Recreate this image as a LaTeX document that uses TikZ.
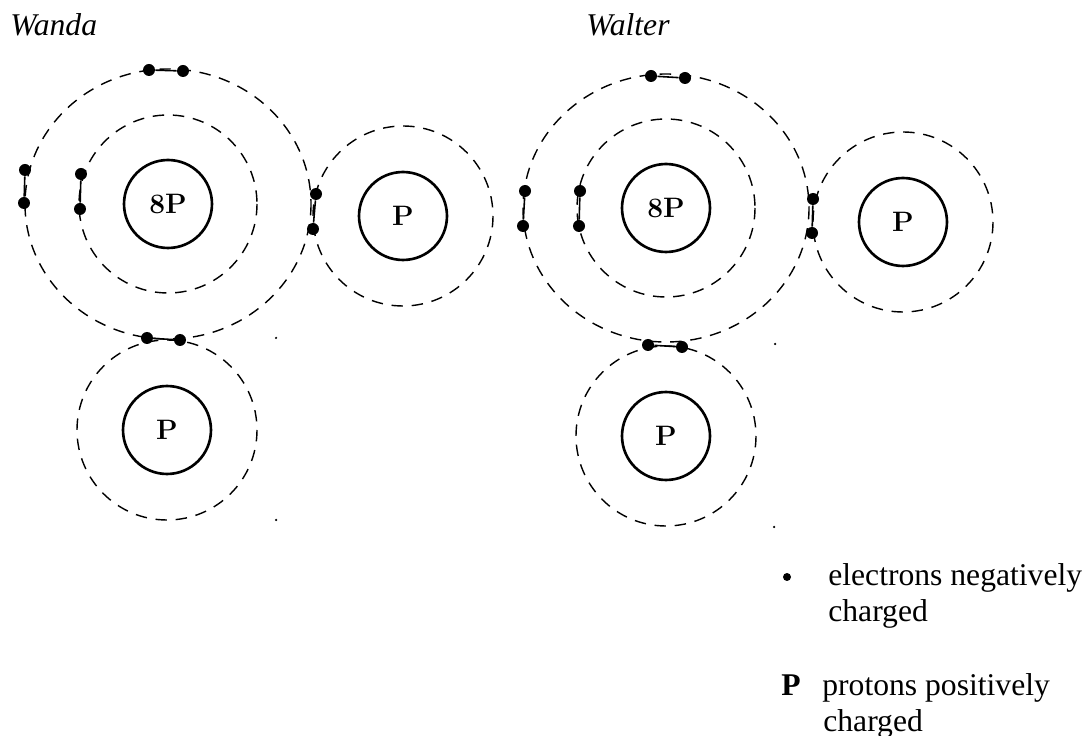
\documentclass[tikz,border=0pt]{standalone}
\usepackage{fontspec}
\newfontfamily\timesfont{Liberation Serif}
\begin{document}
\begin{tikzpicture}[x=0.02cm,y=-0.02cm,
	nucleus/.style={draw,circle,line width=1.5pt,minimum size=1.76cm,inner sep=0pt,font=\bfseries\fontsize{16}{19}\selectfont},
	shell/.style={dash pattern=on 6.5pt off 5pt,line width=0.8pt},
	electron/.style={fill,circle,inner sep=0pt,minimum size=0.24cm},
	pair/.style={line width=0.9pt},
	speck/.style={fill,circle,inner sep=0pt,minimum size=0.05cm},
	who/.style={font=\timesfont\itshape\fontsize{18}{21}\selectfont,anchor=base west,inner sep=0pt},
	key/.style={font=\timesfont\fontsize{18}{21}\selectfont,anchor=base west,inner sep=0pt}]
			\useasboundingbox (0,0) rectangle (1086,736);
			
			\node[who] (wanda) at (10,36) {Wanda};
			\node[who] (walter) at (586,36) {Walter};
			
			\node[nucleus] (Wan8) at (168,204) {8P};
			\node[nucleus] (WanP1) at (403,216) {P};
			\node[nucleus] (WanP2) at (167,430) {P};
			
			\draw[shell] (Wan8) circle[radius=89];
			\draw[shell] (Wan8) ellipse[x radius=143,y radius=135];
			\draw[shell] (WanP1) circle[radius=90];
			\draw[shell] (WanP2) circle[radius=90];
			
			\node[electron] (WanTa) at (149,70) {};
			\node[electron] (WanTb) at (183,71) {};
			\node[electron] (WanLa) at (25,170) {};
			\node[electron] (WanLb) at (24,203) {};
			\node[electron] (WanIa) at (81,174) {};
			\node[electron] (WanIb) at (80,209) {};
			\node[electron] (WanSa) at (316,194) {};
			\node[electron] (WanSb) at (313,229) {};
			\node[electron] (WanBa) at (147,338) {};
			\node[electron] (WanBb) at (180,340) {};
			
			\draw[pair] (WanTa) -- (WanTb);
			\draw[pair] (WanLa) -- (WanLb);
			\draw[pair] (WanIa) -- (WanIb);
			\draw[pair] (WanSa) -- (WanSb);
			\draw[pair] (WanBa) -- (WanBb);
			
			\node[speck] (WanDa) at (276,338) {};
			\node[speck] (WanDb) at (276,520) {};
			
			\node[nucleus] (Wal8) at (666,208) {8P};
			\node[nucleus] (WalP1) at (903,222) {P};
			\node[nucleus] (WalP2) at (666,436) {P};
			
			\draw[shell] (Wal8) circle[radius=89];
			\draw[shell] (Wal8) ellipse[x radius=143,y radius=134];
			\draw[shell] (WalP1) circle[radius=90];
			\draw[shell] (WalP2) circle[radius=90];
			
			\node[electron] (WalTa) at (651,76) {};
			\node[electron] (WalTb) at (685,78) {};
			\node[electron] (WalLa) at (525,191) {};
			\node[electron] (WalLb) at (523,226) {};
			\node[electron] (WalIa) at (580,191) {};
			\node[electron] (WalIb) at (579,226) {};
			\node[electron] (WalSa) at (813,199) {};
			\node[electron] (WalSb) at (812,233) {};
			\node[electron] (WalBa) at (648,345) {};
			\node[electron] (WalBb) at (682,347) {};
			
			\draw[pair] (WalTa) -- (WalTb);
			\draw[pair] (WalLa) -- (WalLb);
			\draw[pair] (WalIa) -- (WalIb);
			\draw[pair] (WalSa) -- (WalSb);
			\draw[pair] (WalBa) -- (WalBb);
			
			\node[speck] (WalDa) at (775,344) {};
			\node[speck] (WalDb) at (774,527) {};
			
			% key
			\node[fill,circle,inner sep=0pt,minimum size=0.16cm] (dot) at (787,577) {};
			\node[key] (el1) at (828,585) {electrons negatively};
			\node[key] (el2) at (828,622) {charged};
			\node[key,font=\timesfont\bfseries\fontsize{18}{21}\selectfont] (pp) at (781,695) {P};
			\node[key] (pr1) at (822,695) {protons positively};
			\node[key] (pr2) at (823,731) {charged};
		\end{tikzpicture}
\end{document}
